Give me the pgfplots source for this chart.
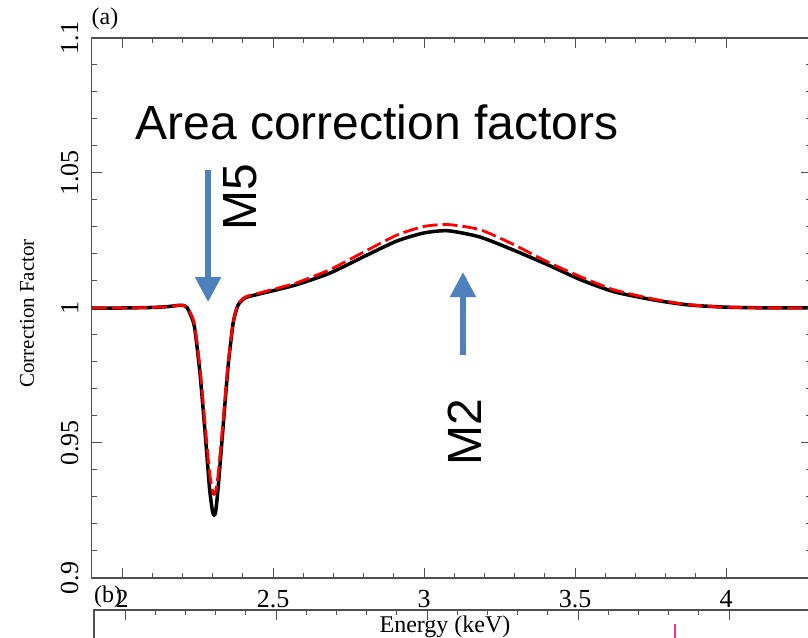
\documentclass[border=0pt]{standalone}
\usepackage{pgfplots}
\pgfplotsset{compat=1.18}
\usepackage{fontspec}
\setmainfont{Liberation Serif}
\newfontfamily\annofont{Liberation Sans}
\usetikzlibrary{arrows.meta}
\definecolor{arrowblue}{RGB}{79,129,189}
\definecolor{axgray}{RGB}{80,80,80}
\begin{document}
\begin{tikzpicture}
\path[use as bounding box] (-45.9bp,-30bp) rectangle (358.1bp,289bp);
% panel (b) top part
\begin{axis}[
  scale only axis, width=359.4bp, height=120bp,
  at={(1.1bp,-16bp)}, anchor=north west,
  xmin=1.897, xmax=4.277, ymin=0, ymax=1,
  xtick={2,2.5,3,3.5,4}, minor x tick num=4,
  xticklabels={}, ytick=\empty,
  major tick length=5bp, minor tick length=2.5bp,
  axis line style={axgray, line width=0.6bp},
  tick style={axgray, line width=0.5bp},
]
\addplot[magenta!80, line width=0.6bp] coordinates {(3.821,0.94) (3.821,0.5)};
\end{axis}
\begin{axis}[
  scale only axis, width=359.4bp, height=270bp,
  at={(0,0)}, anchor=south west,
  xmin=1.9, xmax=4.28, ymin=0.9, ymax=1.1,
  xtick={2,2.5,3,3.5,4}, minor x tick num=4,
  ytick={0.9,0.95,1,1.05,1.1}, minor y tick num=4,
  major tick length=5bp, minor tick length=2.5bp,
  axis line style={axgray, line width=0.6bp},
  tick style={axgray, line width=0.5bp},
  /pgf/number format/assume math mode=true,
  tick label style={font=\fontsize{13bp}{15bp}\selectfont},
  yticklabel style={rotate=90, anchor=south, inner sep=0pt},
  yticklabel shift=6.5bp,
  xticklabel style={inner sep=0pt},
  xticklabel shift=6bp,
  xlabel={Energy (keV)},
  xlabel style={at={(axis description cs:0.4914,-0.0907)}, anchor=center, font=\fontsize{12bp}{14bp}\selectfont},
  ylabel={Correction Factor},
  ylabel style={at={(axis description cs:-0.0902,0.49)}, anchor=center, font=\fontsize{10.5bp}{12bp}\selectfont},
  clip=true,
]
\addplot[black, line width=1.75bp, smooth, tension=0.4] coordinates {
(1.9,1.0) (2.0,1.0) (2.1,1.0002) (2.15,1.0005) (2.19,1.0010) (2.205,1.0009)
(2.215,1.0002) (2.225,0.998) (2.24,0.993) (2.258,0.976) (2.275,0.954)
(2.29,0.933) (2.3,0.9245) (2.305,0.9233) (2.31,0.9245) (2.318,0.933)
(2.334,0.955) (2.351,0.978) (2.368,0.9944) (2.384,1.001) (2.407,1.0037)
(2.44,1.0048) (2.5,1.0064) (2.58,1.0087) (2.69,1.013) (2.80,1.019)
(2.91,1.0248) (3.0,1.0278) (3.08,1.0286) (3.185,1.0263) (3.295,1.0215)
(3.41,1.016) (3.52,1.0104) (3.63,1.006) (3.76,1.003) (3.87,1.0012)
(3.98,1.0004) (4.09,1.0001) (4.28,1.0)};
\addplot[red, line width=1.4bp, smooth, tension=0.4, dash pattern=on 7.5bp off 2.5bp] coordinates {
(1.9,1.0) (2.0,1.0) (2.1,1.0002) (2.15,1.0005) (2.19,1.0010) (2.205,1.0009)
(2.215,1.0002) (2.225,0.9985) (2.24,0.994) (2.258,0.978) (2.275,0.957)
(2.29,0.939) (2.3,0.932) (2.305,0.931) (2.31,0.932) (2.318,0.938)
(2.334,0.957) (2.351,0.979) (2.368,0.9946) (2.384,1.0013) (2.407,1.004)
(2.44,1.0051) (2.5,1.0069) (2.58,1.0094) (2.69,1.0143) (2.80,1.0207)
(2.91,1.027) (3.0,1.0302) (3.08,1.0309) (3.185,1.029) (3.295,1.0236)
(3.41,1.017) (3.52,1.0115) (3.63,1.0067) (3.76,1.0033) (3.87,1.0013)
(3.98,1.0004) (4.09,1.0001) (4.28,1.0)};
\draw[arrowblue, line width=2.6bp, -{Triangle[width=12.5bp,length=12.5bp]}] (axis cs:2.285,1.0511) -- (axis cs:2.285,1.0022);
\draw[arrowblue, line width=2.6bp, -{Triangle[width=12.5bp,length=12.5bp]}] (axis cs:3.129,0.9826) -- (axis cs:3.129,1.0133);
\end{axis}
\node[anchor=base, font=\annofont\fontsize{24bp}{28bp}\selectfont, inner sep=0pt] at (142.6bp,219bp) {Area correction factors};
\node[rotate=90, font=\annofont\fontsize{24bp}{28bp}\selectfont, inner sep=0pt] at (74bp,190.5bp) {M5};
\node[rotate=90, font=\annofont\fontsize{24bp}{28bp}\selectfont, inner sep=0pt] at (186.6bp,73bp) {M2};
\node[font=\fontsize{12bp}{14bp}\selectfont, inner sep=0pt] at (6.6bp,279.5bp) {(a)};
\node[font=\fontsize{12bp}{14bp}\selectfont, inner sep=0pt] at (8.1bp,-9.5bp) {(b)};
\end{tikzpicture}
\end{document}
